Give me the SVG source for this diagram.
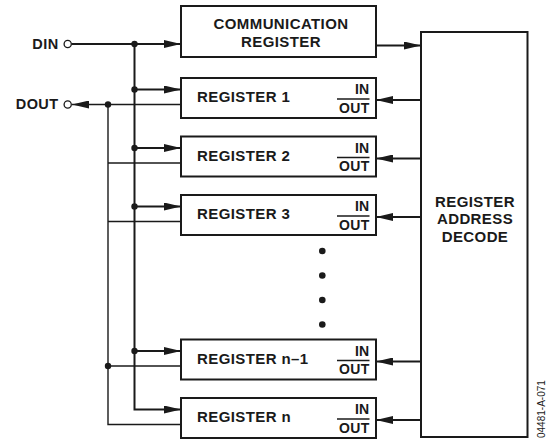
<svg xmlns="http://www.w3.org/2000/svg" width="549" height="442" viewBox="0 0 549 442">
<style>
text{font-family:"Liberation Sans",Arial,Helvetica,sans-serif;font-weight:bold;fill:#1a1a1a}
.lbl{font-size:15px;letter-spacing:0.4px}
.io{font-size:14px;text-anchor:end;letter-spacing:0.3px}
.box{fill:#fff;stroke:#1a1a1a;stroke-width:2}
.thick{stroke:#1a1a1a;stroke-width:2;fill:none}
.thin{stroke:#1a1a1a;stroke-width:1.4;fill:none}
.dot{fill:#1a1a1a}
.bar{stroke:#1a1a1a;stroke-width:1.3}
.note{font-family:"Liberation Sans",Arial,sans-serif;font-weight:normal;font-size:10px}
</style>
<defs>
<marker id="ah" markerUnits="userSpaceOnUse" markerWidth="17" markerHeight="8" refX="17" refY="4" orient="auto">
<path d="M0,0 L17,4 L0,8 z" fill="#1a1a1a"/>
</marker>
</defs>
<g id="connectors">
<line class="thick" x1="71.5" y1="44" x2="181" y2="44" marker-end="url(#ah)"/>
<polyline class="thick" points="134.5,44 134.5,409.5 181,409.5" marker-end="url(#ah)"/>
<line class="thick" x1="134.5" y1="89.5" x2="181" y2="89.5" marker-end="url(#ah)"/>
<line class="thick" x1="134.5" y1="148" x2="181" y2="148" marker-end="url(#ah)"/>
<line class="thick" x1="134.5" y1="206.5" x2="181" y2="206.5" marker-end="url(#ah)"/>
<line class="thick" x1="134.5" y1="351" x2="181" y2="351" marker-end="url(#ah)"/>
<line class="thin" x1="181" y1="104.5" x2="72" y2="104.5" marker-end="url(#ah)"/>
<polyline class="thin" points="108,104.5 108,424.5 181,424.5"/>
<line class="thin" x1="108" y1="163" x2="181" y2="163"/>
<line class="thin" x1="108" y1="221.5" x2="181" y2="221.5"/>
<line class="thin" x1="108" y1="366" x2="181" y2="366"/>
<line class="thick" x1="376" y1="45.5" x2="421" y2="45.5" marker-end="url(#ah)"/>
<line class="thick" x1="421" y1="100" x2="376" y2="100" marker-end="url(#ah)"/>
<line class="thick" x1="421" y1="158.5" x2="376" y2="158.5" marker-end="url(#ah)"/>
<line class="thick" x1="421" y1="217" x2="376" y2="217" marker-end="url(#ah)"/>
<line class="thick" x1="421" y1="361.5" x2="376" y2="361.5" marker-end="url(#ah)"/>
<line class="thick" x1="421" y1="420" x2="376" y2="420" marker-end="url(#ah)"/>
<circle class="dot" cx="134.5" cy="44" r="3.2"/>
<circle class="dot" cx="134.5" cy="89.5" r="3.2"/>
<circle class="dot" cx="134.5" cy="148" r="3.2"/>
<circle class="dot" cx="134.5" cy="206.5" r="3.2"/>
<circle class="dot" cx="134.5" cy="351" r="3.2"/>
<circle class="dot" cx="108" cy="104.5" r="3.2"/>
<circle class="dot" cx="108" cy="366" r="3.2"/>
</g>
<g id="din">
<text x="58.5" y="48.5" class="lbl" text-anchor="end" style="font-size:14.5px">DIN</text>
<circle cx="67.7" cy="44" r="3.6" fill="#fff" stroke="#1a1a1a" stroke-width="1.3"/>
</g>
<g id="dout">
<text x="58.5" y="109" class="lbl" text-anchor="end" style="font-size:14.5px">DOUT</text>
<circle cx="67.7" cy="104.5" r="3.6" fill="#fff" stroke="#1a1a1a" stroke-width="1.3"/>
</g>
<g id="comm">
<rect class="box" x="181" y="6" width="195" height="51"/>
<text x="281" y="28.5" class="lbl" text-anchor="middle">COMMUNICATION</text>
<text x="281" y="47" class="lbl" text-anchor="middle">REGISTER</text>
</g>
<g id="reg1">
<rect class="box" x="181" y="78" width="195" height="40"/>
<text x="197" y="102" class="lbl">REGISTER 1</text>
<text x="369.5" y="94" class="io">IN</text>
<line class="bar" x1="337" y1="99" x2="369.5" y2="99"/>
<text x="369.5" y="112.5" class="io">OUT</text>
</g>
<g id="reg2">
<rect class="box" x="181" y="136.5" width="195" height="40"/>
<text x="197" y="160.5" class="lbl">REGISTER 2</text>
<text x="369.5" y="152.5" class="io">IN</text>
<line class="bar" x1="337" y1="157.5" x2="369.5" y2="157.5"/>
<text x="369.5" y="171" class="io">OUT</text>
</g>
<g id="reg3">
<rect class="box" x="181" y="195" width="195" height="40"/>
<text x="197" y="219" class="lbl">REGISTER 3</text>
<text x="369.5" y="211" class="io">IN</text>
<line class="bar" x1="337" y1="216" x2="369.5" y2="216"/>
<text x="369.5" y="229.5" class="io">OUT</text>
</g>
<g id="ellipsis">
<circle class="dot" cx="322.3" cy="251" r="3.3"/>
<circle class="dot" cx="322.3" cy="275.5" r="3.3"/>
<circle class="dot" cx="322.3" cy="300" r="3.3"/>
<circle class="dot" cx="322.3" cy="324.5" r="3.3"/>
</g>
<g id="regn1">
<rect class="box" x="181" y="339.5" width="195" height="40"/>
<text x="197" y="363.5" class="lbl">REGISTER n–1</text>
<text x="369.5" y="355.5" class="io">IN</text>
<line class="bar" x1="337" y1="360.5" x2="369.5" y2="360.5"/>
<text x="369.5" y="374" class="io">OUT</text>
</g>
<g id="regn">
<rect class="box" x="181" y="398" width="195" height="40"/>
<text x="197" y="422" class="lbl">REGISTER n</text>
<text x="369.5" y="414" class="io">IN</text>
<line class="bar" x1="337" y1="419" x2="369.5" y2="419"/>
<text x="369.5" y="432.5" class="io">OUT</text>
</g>
<g id="decode">
<rect class="box" x="421" y="32" width="106.5" height="405"/>
<text x="475" y="206.5" class="lbl" text-anchor="middle">REGISTER</text>
<text x="475" y="224" class="lbl" text-anchor="middle">ADDRESS</text>
<text x="475" y="241.5" class="lbl" text-anchor="middle">DECODE</text>
</g>
<text class="note" transform="translate(545,438) rotate(-90)">04481-A-071</text>
</svg>
